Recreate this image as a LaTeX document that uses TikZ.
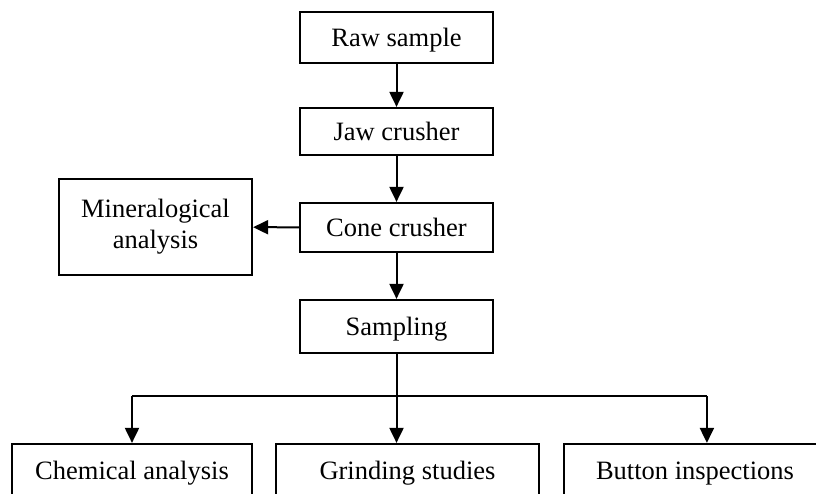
\documentclass[tikz,border=0pt]{standalone}
\usepackage{fontspec}
\setmainfont{Liberation Serif}
\usetikzlibrary{arrows.meta}
\tikzset{
  box/.style={draw, line width=2.2pt, inner sep=0pt, align=center,
    font=\fontsize{26.5}{31}\selectfont},
  onebox/.style={box, text height=18pt, text depth=0pt},
  flow/.style={line width=2pt, -{Triangle[width=14pt,length=15pt]}},
  link/.style={line width=2pt}
}
\begin{document}
\begin{tikzpicture}[x=1pt,y=-1pt]
\useasboundingbox (0,0) rectangle (816,494);
\clip (0,0) rectangle (816,494);
% main chain
\node[onebox, minimum width=193pt, minimum height=51pt] (raw) at (396.5,37.5) {Raw sample};
\node[onebox, minimum width=193pt, minimum height=47pt] (jaw) at (396.5,131.5) {Jaw crusher};
\node[onebox, minimum width=193pt, minimum height=49pt] (cone) at (396.5,227.5) {Cone crusher};
\node[onebox, minimum width=193pt, minimum height=53pt] (samp) at (396.5,326.5) {Sampling};
% side branch
\node[box, minimum width=193pt, minimum height=96pt] (mine) at (155.5,227) {Mineralogical\\analysis};
% bottom row (runs past the lower edge)
\node[onebox, minimum width=240pt, minimum height=53pt] (chem) at (132,470.5) {Chemical analysis};
\node[onebox, minimum width=263pt, minimum height=53pt] (grind) at (407.5,470.5) {Grinding studies};
\node[onebox, minimum width=262pt, minimum height=53pt] (btn) at (695,470.5) {Button inspections};
\coordinate (btop) at ([xshift=144pt]btn.north west);
% connectors
\draw[flow] (raw) -- (jaw);
\draw[flow] (jaw) -- (cone);
\draw[flow] (cone) -- (samp);
\draw[flow] (cone) -- (mine);
\draw[flow] (samp.south) -- (samp.south |- grind.north);
\coordinate (split) at (396.5,396);
\draw[link] (split) -- (split -| chem.north);
\draw[flow] (split -| chem.north) -- (chem.north);
\draw[link] (split) -- (split -| btop);
\draw[flow] (split -| btop) -- (btop);
\end{tikzpicture}
\end{document}
